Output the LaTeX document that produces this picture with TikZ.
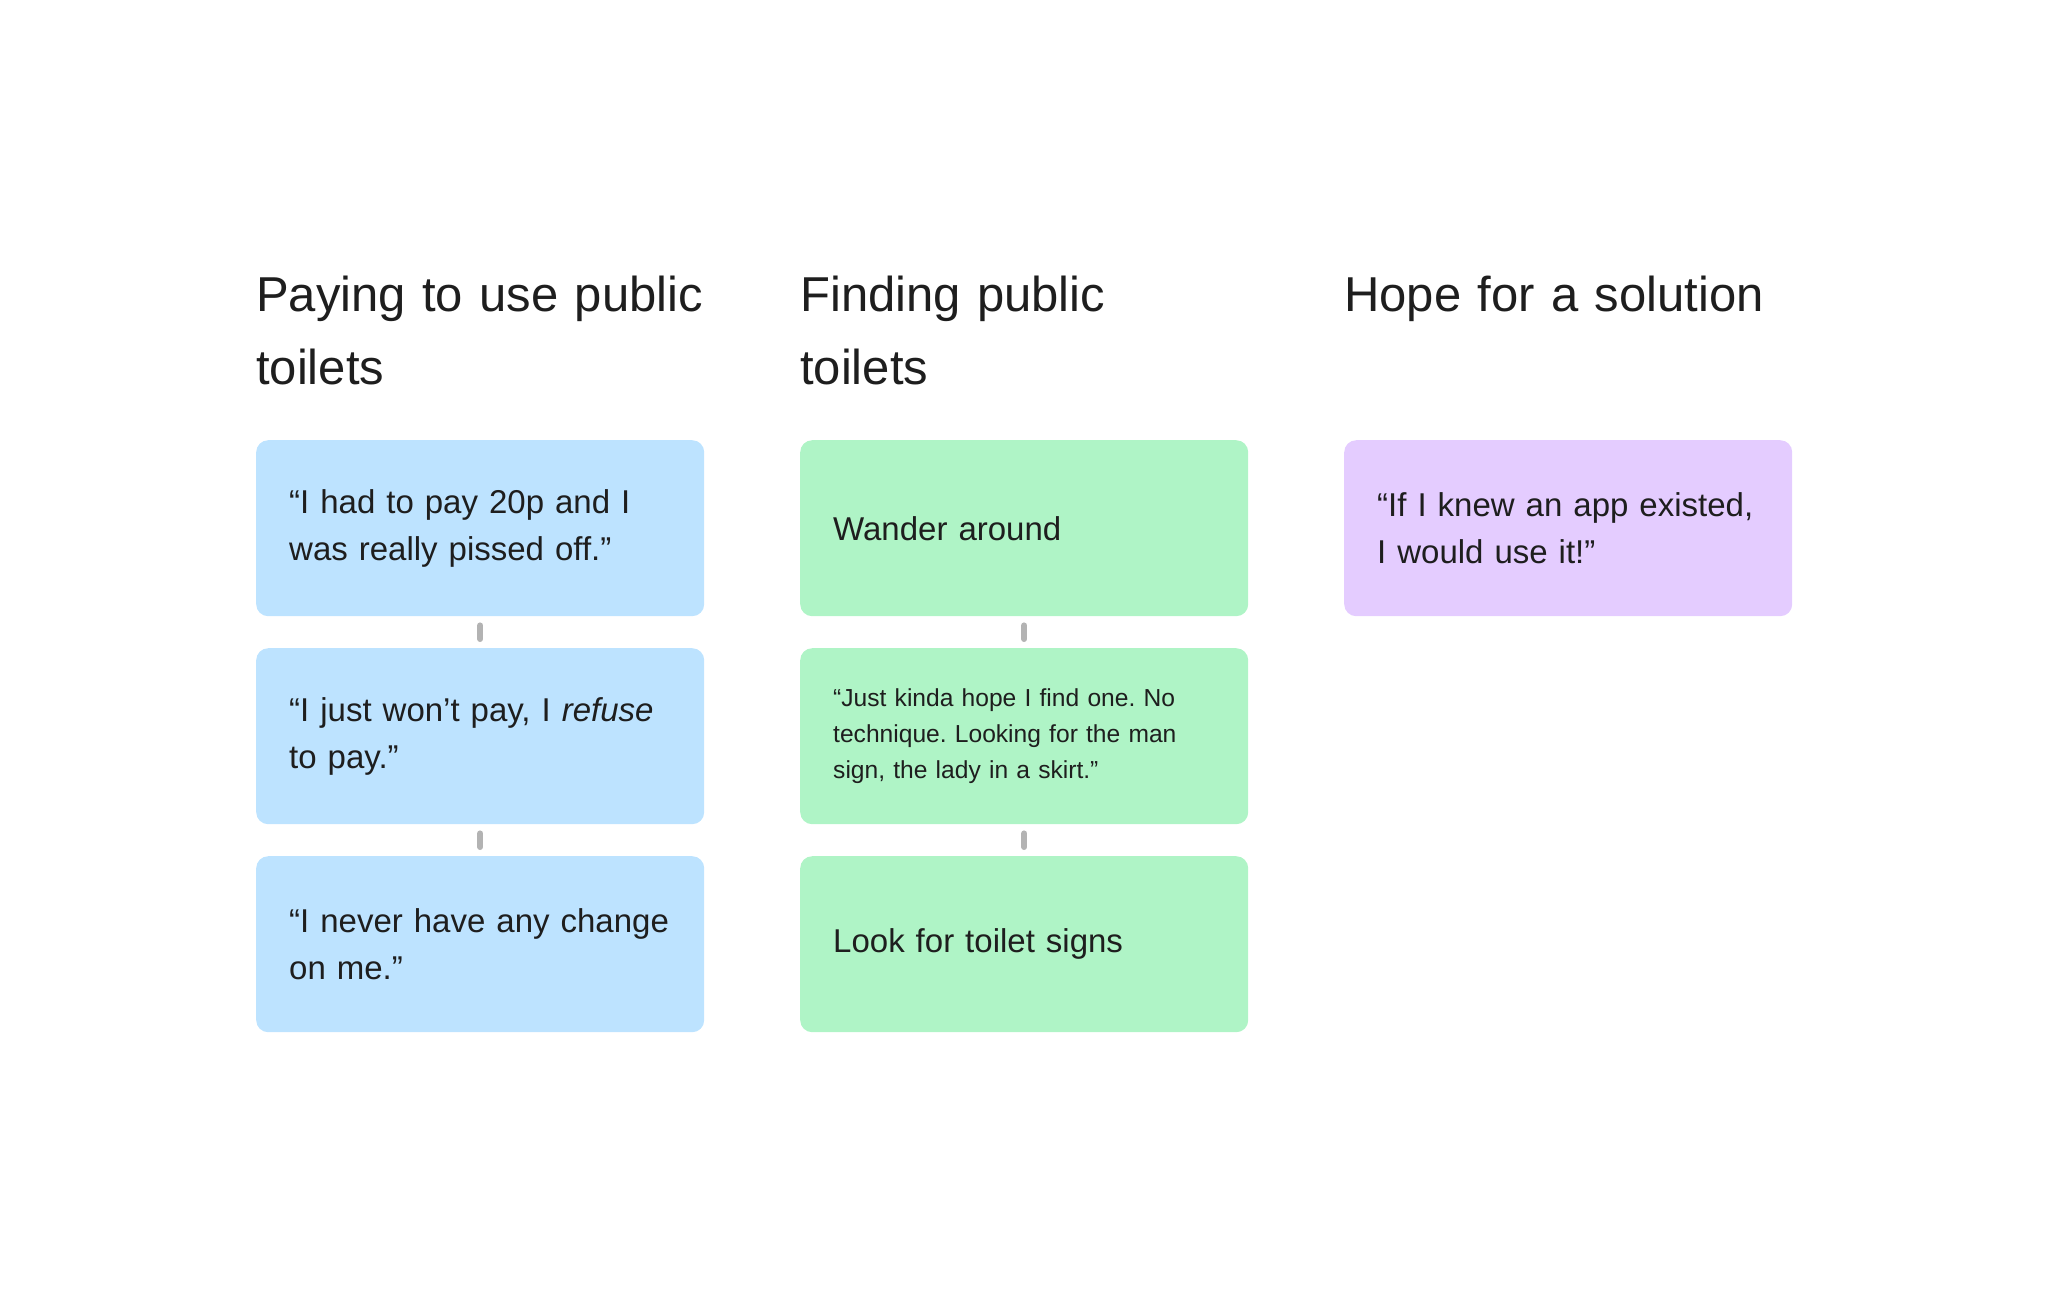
\documentclass[tikz,border=0pt]{standalone}
\usepackage{fontspec}
\setmainfont{Liberation Sans}
\frenchspacing
\definecolor{ink}{HTML}{1E1E1E}
\definecolor{skyblue}{HTML}{BDE3FF}
\definecolor{mint}{HTML}{AFF4C6}
\definecolor{lilac}{HTML}{E4CCFF}
\definecolor{linkgrey}{HTML}{B3B3B3}

\begin{document}
\begin{tikzpicture}[x=1pt,y=-1pt,
	head/.style={anchor=base west,inner sep=0pt,text width=520pt,align=left,font=\fontsize{49}{73}\selectfont,text=ink},
	card/.style={anchor=north west,rounded corners=12pt,minimum width=448pt,minimum height=176pt,text width=382pt,inner xsep=33pt,inner ysep=0pt,align=left,font=\fontsize{33}{47}\selectfont,text=ink},
	small/.style={font=\fontsize{24.6}{36}\selectfont},
	link/.style={draw=linkgrey,line width=6pt,line cap=round}]
		\useasboundingbox (0,0) rectangle (2048,1288);
		\node[head] (paying) at (256,311) {Paying to use public\\toilets};
		\node[head] (finding) at (800,311) {Finding public\\toilets};
		\node[head] (hope) at (1344,311) {Hope for a solution};

		\node[card,fill=skyblue] (pay1) at (256,440) {“I had to pay 20p and I\\was really pissed off.”};
		\node[card,fill=skyblue] (pay2) at (256,648) {“I just won’t pay, I \textit{refuse}\\to pay.”};
		\node[card,fill=skyblue] (pay3) at (256,856) {“I never have any change\\on me.”};
		\draw[link] ([yshift=-9pt]pay1.south) -- ([yshift=9pt]pay2.north);
		\draw[link] ([yshift=-9pt]pay2.south) -- ([yshift=9pt]pay3.north);

		\node[card,fill=mint] (find1) at (800,440) {Wander around};
		\node[card,fill=mint,small] (find2) at (800,648) {“Just kinda hope I find one. No\\technique. Looking for the man\\sign, the lady in a skirt.”};
		\node[card,fill=mint] (find3) at (800,856) {Look for toilet signs};
		\draw[link] ([yshift=-9pt]find1.south) -- ([yshift=9pt]find2.north);
		\draw[link] ([yshift=-9pt]find2.south) -- ([yshift=9pt]find3.north);

		\node[card,fill=lilac] (app) at (1344,440) {“If I knew an app existed,\\I would use it!”};
\end{tikzpicture}
\end{document}
